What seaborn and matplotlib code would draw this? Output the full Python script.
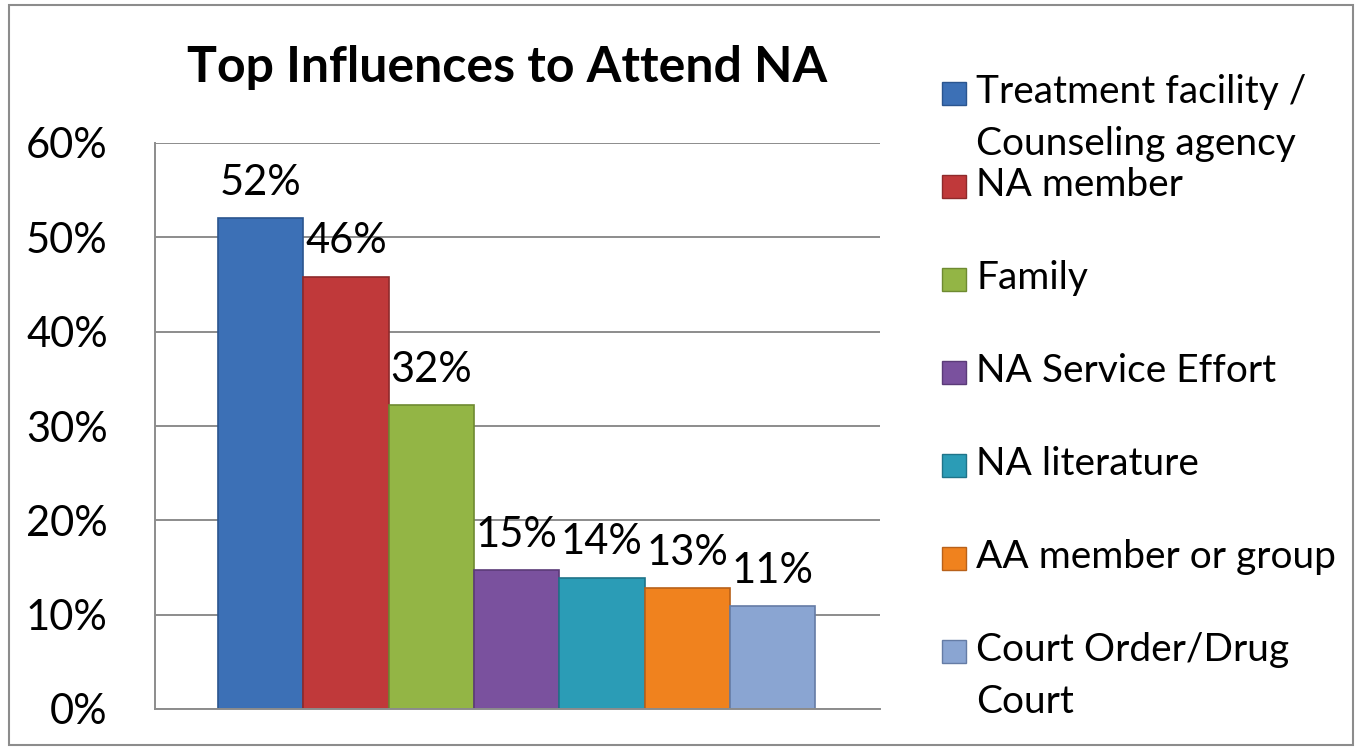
import matplotlib
matplotlib.use("Agg")
import matplotlib.pyplot as plt
import matplotlib.patches as mpatches
from matplotlib.ticker import PercentFormatter
import seaborn as sns

# Chart data
categories = ["Treatment facility /\nCounseling agency", "NA member", "Family",
              "NA Service Effort", "NA literature", "AA member or group",
              "Court Order/Drug\nCourt"]
values = [0.52, 0.458, 0.322, 0.147, 0.139, 0.128, 0.109]
value_labels = ["52%", "46%", "32%", "15%", "14%", "13%", "11%"]
colors = ["#3C70B6", "#C0393A", "#93B545", "#7A519E", "#2B9CB6", "#F0821E", "#8AA5D2"]
edge_colors = ["#2A558F", "#8E2A2B", "#6E8A31", "#5B3B78", "#1F7489", "#B8611A", "#657CA5"]
y_ticks = [0, 0.1, 0.2, 0.3, 0.4, 0.5, 0.6]

sns.set_style("white")
plt.rcParams["font.family"] = ["Lato", "DejaVu Sans"]
plt.rcParams["text.color"] = "black"
plt.rcParams["ytick.color"] = "black"

fig = plt.figure(figsize=(13.61, 7.49), dpi=100)
ax = fig.add_axes([155 / 1361, 1 - 709 / 749, 725 / 1361, 566 / 749])

sns.barplot(x=categories, y=values, hue=categories, palette=colors,
            width=1, legend=False, saturation=1, ax=ax)
for patch, ec in zip(ax.patches, edge_colors):
    patch.set_edgecolor(ec)
    patch.set_linewidth(1.2)

for cont, lab in zip(ax.containers, value_labels):
    ax.bar_label(cont, labels=[lab], padding=12, fontsize=30, color="black")

ax.set_xlim(-1.24, 7.26)
ax.set_ylim(0, 0.6)
ax.set_yticks(y_ticks)
ax.yaxis.set_major_formatter(PercentFormatter(1.0, decimals=0))
ax.tick_params(axis="y", length=0, pad=34, labelsize=30, labelcolor="black")
ax.set_xticks([])
ax.set_xlabel("")
ax.set_ylabel("")
ax.grid(axis="y", color="#8C8C8C", linewidth=1.4)
ax.set_axisbelow(True)
for side in ["top", "right"]:
    ax.spines[side].set_visible(False)
for side in ["left", "bottom"]:
    ax.spines[side].set_color("#8C8C8C")
    ax.spines[side].set_linewidth(1.4)

fig.text(507 / 1361, 1 - 68 / 749, "Top Influences to Attend NA",
         ha="center", va="center", fontsize=36, fontweight="bold", color="black")

# legend drawn by hand to follow the evenly spaced Excel layout
slot_y = 93
step = 93
for i, (lab, col, ec) in enumerate(zip(categories, colors, edge_colors)):
    y = slot_y + i * step
    fig.patches.append(mpatches.Rectangle((942 / 1361, 1 - (y + 12) / 749), 24 / 1361, 23 / 749,
                                          transform=fig.transFigure, facecolor=col,
                                          edgecolor=ec, linewidth=1))
    fig.text(976 / 1361, 1 - (y - 19) / 749, lab, ha="left", va="top",
             fontsize=28, linespacing=1.55, color="black")

# outer frame
fig.patches.append(mpatches.Rectangle((9 / 1361, 4 / 749), 1344 / 1361, 740 / 749,
                                      transform=fig.transFigure, fill=False,
                                      edgecolor="#8C8C8C", linewidth=1.5))

fig.savefig("out.png", dpi=100)
